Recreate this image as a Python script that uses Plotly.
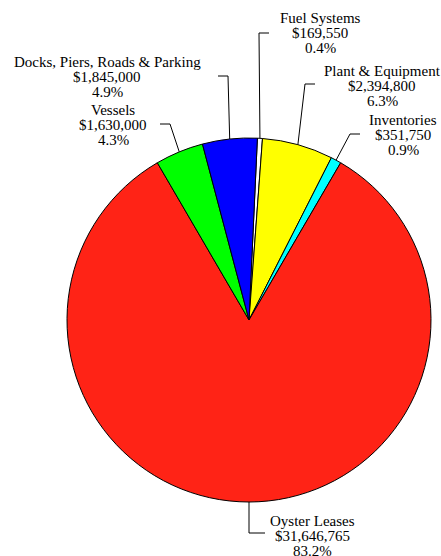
import math
import plotly.graph_objects as go

# Asset categories and values (clockwise from the top of the pie)
categories = ["Fuel Systems", "Plant & Equipment", "Inventories",
              "Oyster Leases", "Vessels", "Docks, Piers, Roads & Parking"]
values = [169550, 2394800, 351750, 31646765, 1630000, 1845000]
colors = ["#FFFFFF", "#FFFF00", "#00FFFF", "#FF2316", "#00FF00", "#0000FF"]

W, H = 441, 556
CX, CY, R = 249, 320, 182          # pie centre and radius in pixels

# Label block placement: (text centre x, first line y), leader elbow, leader end x
label_pos = {
    "Fuel Systems": ((320, 18), (259, 33), 269),
    "Plant & Equipment": ((382, 71), (305, 84), 315),
    "Inventories": ((403, 120), (350, 134), 360),
    "Oyster Leases": ((312, 521), (249, 533), 265),
    "Vessels": ((113, 110), (170, 124), 160),
    "Docks, Piers, Roads & Parking": ((107, 62), (228, 76), 218),
}
LINE_GAP = 15

total = sum(values)
# rotate so the largest slice is centred at six o'clock
before = sum(values[:categories.index("Oyster Leases")])
rotation = 180 - 360 * (before + values[3] / 2) / total

fig = go.Figure()
fig.add_trace(go.Pie(
    labels=categories, values=values, sort=False, direction="clockwise",
    rotation=rotation, textinfo="none", hoverinfo="label+value+percent",
    marker=dict(colors=colors, line=dict(color="black", width=1)),
    domain=dict(x=[(CX - R) / W, (CX + R) / W],
                y=[(H - CY - R) / H, (H - CY + R) / H]),
    showlegend=False,
))

font = dict(family="Liberation Serif", size=15, color="black")
annotations = []
cum = 0
for name, v in zip(categories, values):
    mid = math.radians(rotation + 360 * (cum + v / 2) / total)
    cum += v
    ex, ey = CX + R * math.sin(mid), CY - R * math.cos(mid)
    (tx, ty), (bx, by), endx = label_pos[name]
    fig.add_trace(go.Scatter(
        x=[ex, bx, endx], y=[ey, by, by], mode="lines",
        line=dict(color="black", width=1), hoverinfo="skip", showlegend=False,
    ))
    lines = [name, "${:,}".format(v), "{:.1f}%".format(100 * v / total)]
    for i, t in enumerate(lines):
        annotations.append(dict(
            x=tx, y=ty + i * LINE_GAP, xref="x", yref="y", text=t,
            showarrow=False, xanchor="center", yanchor="middle", font=font,
        ))

fig.update_layout(
    width=W, height=H, margin=dict(l=0, r=0, t=0, b=0),
    paper_bgcolor="white", plot_bgcolor="rgba(0,0,0,0)",
    xaxis=dict(range=[0, W], visible=False, fixedrange=True),
    yaxis=dict(range=[H, 0], visible=False, fixedrange=True),
    annotations=annotations,
)
fig.write_html("out.html")
